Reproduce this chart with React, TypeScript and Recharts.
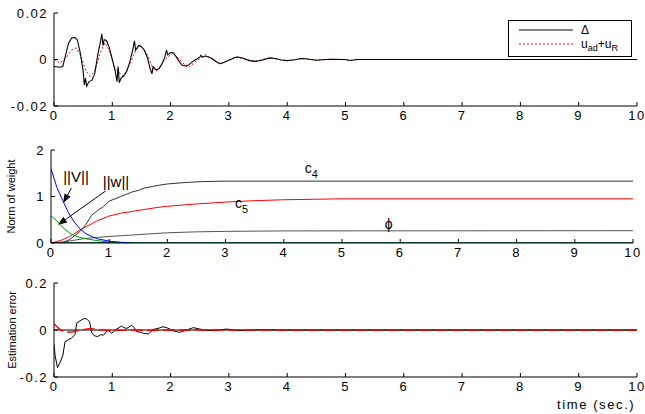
import { LineChart, Line, XAxis, YAxis, ReferenceLine, ReferenceDot } from "recharts";

const FONT = '"Liberation Sans", Arial, sans-serif';

const timeTicks = [0, 1, 2, 3, 4, 5, 6, 7, 8, 9, 10];
const topTicks = [-0.02, 0, 0.02];
const midTicks = [0, 1, 2];
const botTicks = [-0.2, 0, 0.2];

// top panel: Delta (black) and u_ad + u_R (red dotted)
const deltaPts: [number, number][] = [
  [0, -0.003], [0.1, -0.0033], [0.15, -0.003], [0.2, 0.002], [0.25, 0.007], [0.3, 0.0092],
  [0.35, 0.0095], [0.4, 0.0085], [0.45, 0.003], [0.5, -0.005], [0.52, -0.011], [0.54, -0.008],
  [0.56, -0.0115], [0.6, -0.0095], [0.65, -0.009], [0.7, -0.006], [0.75, 0.002], [0.8, 0.008],
  [0.82, 0.011], [0.84, 0.006], [0.86, 0.0085], [0.9, 0.0082], [0.95, 0.005], [1.0, 0.0],
  [1.05, -0.005], [1.08, -0.0095], [1.1, -0.003], [1.12, -0.01], [1.15, -0.008], [1.2, -0.007],
  [1.25, -0.005], [1.3, -0.001], [1.35, 0.004], [1.38, 0.008], [1.4, 0.004], [1.45, 0.006],
  [1.5, 0.0055], [1.55, 0.004], [1.6, 0.001], [1.65, -0.004], [1.68, -0.0062], [1.7, -0.003],
  [1.75, -0.0045], [1.8, -0.004], [1.85, -0.002], [1.9, 0.001], [1.93, 0.004], [1.95, 0.002],
  [2.0, 0.003], [2.05, 0.0028], [2.1, 0.001], [2.15, -0.001], [2.2, -0.0025], [2.25, -0.0028],
  [2.3, -0.0025], [2.4, -0.0005], [2.5, 0.001], [2.52, 0.0018], [2.55, 0.001], [2.6, 0.0015],
  [2.7, 0.0005], [2.8, -0.0012], [2.85, -0.0017], [2.9, -0.0014], [3.0, -0.0003], [3.1, 0.0009],
  [3.15, 0.0011], [3.25, 0.0005], [3.35, -0.0005], [3.45, -0.0008], [3.55, -0.0004], [3.7, 0.0007],
  [3.8, 0.0004], [3.9, -0.0002], [4.0, -0.0005], [4.1, -0.0002], [4.25, 0.0004], [4.35, 0.0002],
  [4.5, -0.0003], [4.6, -0.0001], [4.75, 0.0001], [5.0, 0], [5.08, -0.0004], [5.2, 0], [10, 0],
];
const uadPts: [number, number][] = [
  [0, 0], [0.1, -0.0015], [0.2, 0.0005], [0.3, 0.004], [0.38, 0.005], [0.45, 0.002],
  [0.55, -0.005], [0.62, -0.0072], [0.7, -0.005], [0.78, 0.002], [0.87, 0.0072], [0.95, 0.004],
  [1.05, -0.004], [1.19, -0.0072], [1.3, -0.002], [1.4, 0.004], [1.48, 0.0062], [1.6, 0.002],
  [1.7, -0.004], [1.77, -0.005], [1.9, 0], [2.04, 0.0029], [2.15, 0], [2.3, -0.0036],
  [2.45, -0.0005], [2.6, 0.0021], [2.72, 0], [2.85, -0.0021], [3.0, -0.0002], [3.14, 0.001],
  [3.3, 0], [3.45, -0.0008], [3.6, 0.0002], [3.71, 0.0007], [3.85, 0], [4.0, -0.0005],
  [4.25, 0.0004], [4.5, -0.0003], [4.75, 0.0001], [5.0, -0.0001], [5.08, -0.0004], [5.2, 0], [10, 0],
];

// middle panel: norm of weights
const normVPts: [number, number][] = [
  [0, 1.6], [0.1, 1.2], [0.2, 0.92], [0.3, 0.65], [0.4, 0.45], [0.5, 0.3], [0.6, 0.2],
  [0.7, 0.14], [0.8, 0.09], [1.0, 0.04], [1.2, 0.015], [1.4, 0],
];
const normWPts: [number, number][] = [
  [0, 0.58], [0.1, 0.48], [0.2, 0.34], [0.3, 0.23], [0.4, 0.16], [0.5, 0.12], [0.6, 0.09],
  [0.8, 0.05], [1.0, 0.02], [1.3, 0.005], [1.5, 0],
];
const c4Pts: [number, number][] = [
  [0, 0], [0.2, 0.01], [0.3, 0.06], [0.4, 0.15], [0.5, 0.25], [0.6, 0.4], [0.7, 0.6],
  [0.8, 0.7], [0.9, 0.78], [1.0, 0.9], [1.1, 0.95], [1.2, 1.0], [1.3, 1.05], [1.4, 1.1],
  [1.5, 1.13], [1.6, 1.18], [1.8, 1.23], [2.0, 1.27], [2.3, 1.3], [2.6, 1.32], [3.0, 1.33], [10, 1.33],
];
const c5Pts: [number, number][] = [
  [0, 0], [0.1, 0.03], [0.2, 0.07], [0.3, 0.13], [0.4, 0.2], [0.5, 0.28], [0.6, 0.35],
  [0.8, 0.48], [1.0, 0.58], [1.2, 0.64], [1.4, 0.68], [1.6, 0.72], [1.8, 0.76], [2.0, 0.79],
  [2.5, 0.84], [3.0, 0.88], [3.5, 0.91], [4.0, 0.93], [4.5, 0.94], [5.0, 0.95], [10, 0.95],
];
const phiPts: [number, number][] = [
  [0, 0], [0.2, 0.02], [0.4, 0.06], [0.6, 0.1], [0.8, 0.12], [1.0, 0.14], [1.5, 0.18],
  [2.0, 0.22], [2.5, 0.24], [3.0, 0.25], [4.0, 0.26], [10, 0.265],
];
const floorPts: [number, number][] = [[0, 0], [10, 0]];

// bottom panel: estimation error
const errBlackPts: [number, number][] = [
  [0, -0.06], [0.02, -0.11], [0.06, -0.16], [0.1, -0.14], [0.15, -0.11], [0.19, -0.05],
  [0.25, -0.04], [0.3, -0.035], [0.36, -0.02], [0.39, 0.03], [0.47, 0.043], [0.53, 0.05],
  [0.57, 0.045], [0.61, 0.035], [0.65, -0.014], [0.7, -0.025], [0.75, -0.028], [0.8, -0.02],
  [0.85, -0.022], [0.93, 0], [0.99, -0.014], [1.07, 0.003], [1.16, 0.017], [1.2, 0.01],
  [1.25, 0.007], [1.33, 0.02], [1.37, 0.012], [1.42, -0.007], [1.5, -0.01], [1.53, -0.014],
  [1.62, -0.017], [1.7, 0.002], [1.8, 0.008], [1.87, 0.014], [1.95, 0.008], [2.05, -0.004],
  [2.16, -0.01], [2.25, -0.002], [2.39, 0.01], [2.5, 0.004], [2.65, -0.002], [2.75, -0.003],
  [2.96, 0.004], [3.1, 0], [3.25, -0.003], [3.4, 0], [3.6, 0.001], [4, 0], [10, 0],
];
const errRedPts: [number, number][] = [
  [0, 0.025], [0.05, 0.015], [0.1, 0.002], [0.19, -0.01], [0.33, -0.007], [0.45, 0],
  [0.62, 0.006], [0.79, 0], [1.0, -0.003], [1.3, 0], [1.6, -0.002], [2.0, 0], [10, 0],
];
const errZeroPts: [number, number][] = [[0, 0], [10, 0]];

const toRows = (pts: [number, number][]) => pts.map(([t, v]) => ({ t, v }));

const tickFont = { fontSize: 13, fill: "#000", fontFamily: FONT, letterSpacing: 1.5 };

function frame(domain: number[], yTicks: number[], yLabel?: string, labelOffset = 10) {
  return [
    <XAxis key="xb" dataKey="t" type="number" domain={[0, 10]} ticks={timeTicks} interval={0}
      tickSize={-4} tickMargin={9} height={20} stroke="#000" tick={tickFont} allowDataOverflow />,
    <XAxis key="xt" xAxisId="top" orientation="top" type="number" domain={[0, 10]} ticks={timeTicks}
      tickSize={-4} height={0} stroke="#000" tick={false} />,
    <YAxis key="yl" type="number" domain={domain} ticks={yTicks} interval={0} tickSize={-4}
      tickMargin={10} width={50} stroke="#000" tick={tickFont} allowDataOverflow
      label={yLabel ? { value: yLabel, angle: -90, position: "insideLeft", offset: labelOffset,
        style: { textAnchor: "middle", fontSize: 11, fontFamily: FONT, fill: "#000" } } : undefined} />,
    <YAxis key="yr" yAxisId="right" orientation="right" type="number" domain={domain} ticks={yTicks}
      tickSize={-4} width={0} stroke="#000" tick={false} />,
  ];
}

const arrowShape = (p: any) => {
  const { x1, y1, x2, y2 } = p;
  const ang = Math.atan2(y2 - y1, x2 - x1);
  const L = 9, W = 3.5;
  const bx = x2 - L * Math.cos(ang), by = y2 - L * Math.sin(ang);
  const px = -Math.sin(ang) * W, py = Math.cos(ang) * W;
  return (
    <g>
      <line x1={x1} y1={y1} x2={bx} y2={by} stroke="#000" strokeWidth={1} />
      <polygon points={`${x2},${y2} ${bx + px},${by + py} ${bx - px},${by - py}`} fill="#000" />
    </g>
  );
};

const textShape = (main: string, sub?: string, anchor: "start" | "middle" = "start", size = 14) => (p: any) => (
  <text x={p.cx} y={p.cy} fontFamily={FONT} fontSize={size} fill="#000" textAnchor={anchor}>
    {main}
    {sub ? <tspan fontSize={11} dy={5}>{sub}</tspan> : null}
  </text>
);

export default function App() {
  return (
    <div style={{ position: "absolute", left: 0, top: 0, width: 645, height: 414, background: "#fff", fontFamily: FONT }}>
      <div style={{ position: "absolute", left: 0, top: 0 }}>
        <LineChart width={645} height={130} margin={{ top: 13, right: 8, left: 4, bottom: 4 }}>
          {frame([-0.02, 0.02], topTicks)}
          <Line data={toRows(uadPts)} dataKey="v" stroke="#ff0000" strokeWidth={1} strokeDasharray="2 2"
            dot={false} isAnimationActive={false} />
          <Line data={toRows(deltaPts)} dataKey="v" stroke="#000" strokeWidth={1.1}
            dot={false} isAnimationActive={false} />
        </LineChart>
      </div>
      <div style={{ position: "absolute", left: 508, top: 20, width: 122, height: 35, border: "1px solid #000", background: "#fff" }}>
        <svg width={122} height={35} style={{ position: "absolute", left: 0, top: 0 }}>
          <line x1={10} y1={9} x2={64} y2={9} stroke="#000" strokeWidth={1} />
          <line x1={10} y1={23} x2={64} y2={23} stroke="#ff0000" strokeWidth={1} strokeDasharray="2 2" />
          <text x={72} y={13} fontSize={12} fontFamily={FONT} fill="#000">Δ</text>
          <text x={72} y={27} fontSize={12} fontFamily={FONT} fill="#000">
            u<tspan fontSize={9} dy={3}>ad</tspan><tspan dy={-3}>+u</tspan><tspan fontSize={9} dy={3}>R</tspan>
          </text>
        </svg>
      </div>

      <div style={{ position: "absolute", left: 0, top: 130 }}>
        <LineChart width={645} height={140} margin={{ top: 20, right: 12, left: 1, bottom: 7 }}>
          {frame([0, 2], midTicks, "Norm of weight", 10)}
          <Line data={toRows(floorPts)} dataKey="v" stroke="#2a6e6e" strokeWidth={2} dot={false} isAnimationActive={false} />
          <Line data={toRows(phiPts)} dataKey="v" stroke="#555" strokeWidth={1} dot={false} isAnimationActive={false} />
          <Line data={toRows(c5Pts)} dataKey="v" stroke="#ff0000" strokeWidth={1} dot={false} isAnimationActive={false} />
          <Line data={toRows(c4Pts)} dataKey="v" stroke="#333" strokeWidth={1} dot={false} isAnimationActive={false} />
          <Line data={toRows(normWPts)} dataKey="v" stroke="#009900" strokeWidth={1} dot={false} isAnimationActive={false} />
          <Line data={toRows(normVPts)} dataKey="v" stroke="#0000ff" strokeWidth={1} dot={false} isAnimationActive={false} />
          <ReferenceLine segment={[{ x: 0.35, y: 1.18 }, { x: 0.21, y: 0.86 }]} shape={arrowShape} />
          <ReferenceLine segment={[{ x: 0.94, y: 1.12 }, { x: 0.12, y: 0.39 }]} shape={arrowShape} />
          <ReferenceDot x={0.21} y={1.31} r={0} shape={textShape("||V||", undefined, "start", 15)} />
          <ReferenceDot x={0.89} y={1.2} r={0} shape={textShape("||w||", undefined, "start", 15)} />
          <ReferenceDot x={4.36} y={1.5} r={0} shape={textShape("c", "4")} />
          <ReferenceDot x={3.16} y={0.75} r={0} shape={textShape("c", "5")} />
          <ReferenceDot x={5.8} y={0.3} r={0} shape={textShape("ϕ", undefined, "middle")} />
        </LineChart>
      </div>

      <div style={{ position: "absolute", left: 0, top: 270 }}>
        <LineChart width={645} height={144} margin={{ top: 13, right: 8, left: 4, bottom: 17 }}>
          {frame([-0.2, 0.2], botTicks, "Estimation error", 8)}
          <Line data={toRows(errZeroPts)} dataKey="v" stroke="#000" strokeWidth={1} dot={false} isAnimationActive={false} />
          <Line data={toRows(errBlackPts)} dataKey="v" stroke="#000" strokeWidth={1} dot={false} isAnimationActive={false} />
          <Line data={toRows(errRedPts)} dataKey="v" stroke="#ff0000" strokeWidth={1.5} strokeDasharray="12 4"
            dot={false} isAnimationActive={false} />
        </LineChart>
      </div>
      <div style={{ position: "absolute", left: 557, top: 397, fontSize: 13, letterSpacing: 1.6, whiteSpace: "nowrap", color: "#000" }}>
        time (sec.)
      </div>
    </div>
  );
}
